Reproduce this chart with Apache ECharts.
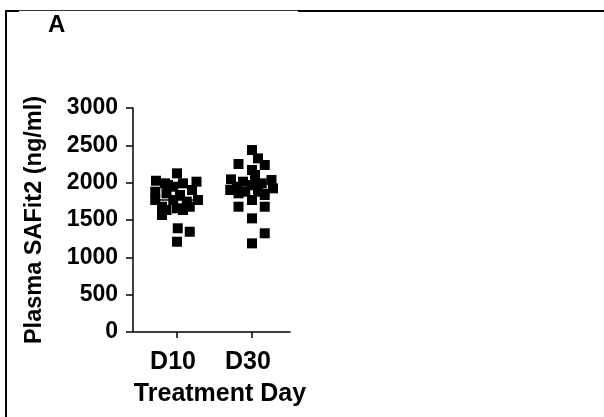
<!DOCTYPE html>
<html>
<head>
<meta charset="utf-8">
<script src="https://cdn.jsdelivr.net/npm/echarts@6/dist/echarts.min.js"></script>
<style>
	html, body { margin: 0; padding: 0; background: #fff; }
	#chart { width: 604px; height: 417px; }
</style>
</head>
<body>
<div id="chart"></div>
<script>
// treatment days (x categories)
var days = ['D10', 'D30'];

// plasma SAFit2, ng/ml
var d10Values = [2125, 2026, 2013, 1991, 1991, 1968, 1946, 1879, 1902, 1857, 1835, 1768, 1768, 1768, 1746, 1678, 1656, 1678, 1634, 1634, 1567, 1389, 1343, 1209];
// horizontal scatter of each point around its day (in day units)
var d10Jitter = [0, -0.28, 0.26, 0.08, -0.16, -0.12, -0.05, -0.29, 0.2, -0.14, 0.04, 0.28, -0.29, -0.05, 0.13, -0.2, 0, 0.17, -0.14, 0.08, -0.2, 0.01, 0.17, 0];

var d30Values = [2437, 2326, 2250, 2237, 2170, 2103, 2044, 2036, 2013, 1991, 1946, 1969, 1924, 1902, 1879, 1879, 1857, 1835, 1768, 1678, 1678, 1522, 1322, 1187];
var d30Jitter = [0, 0.08, -0.18, 0.17, 0, 0.04, -0.28, 0.26, -0.12, 0.13, -0.2, 0, 0.28, -0.29, -0.09, 0.08, -0.18, 0.17, 0, -0.18, 0.17, 0, 0.17, 0];

// group means shown as horizontal bars
var means = [1768, 1908];

// y axis ticks
var yTicks = [0, 500, 1000, 1500, 2000, 2500, 3000];

var font = '"Liberation Sans", Arial, sans-serif';

function points(values, jitter, pos) {
	return values.map(function(v, i) {
		return [pos + jitter[i], v];
	});
}

function meanLine(i) {
	var half = 0.34;
	return [[i + 1 - half, means[i]], [i + 1 + half, means[i]]];
}

var dom = document.getElementById('chart');
var myChart = echarts.init(dom, null, { renderer: 'canvas' });

var option = {
	animation: false,
	backgroundColor: '#fff',
	grid: {
		left: 133,
		top: 108,
		width: 157,
		height: 224
	},
	xAxis: {
		type: 'value',
		min: 0.413,
		max: 2.507,
		name: 'Treatment Day',
		nameLocation: 'middle',
		nameGap: 50,
		nameTextStyle: {
			color: '#000',
			fontFamily: font,
			fontWeight: 'bold',
			fontSize: 25,
			padding: [0, 0, 0, 17]
		},
		axisLine: { lineStyle: { color: '#000', width: 1.5 } },
		axisTick: {
			customValues: [1, 2],
			length: 6,
			lineStyle: { color: '#000', width: 1.5 }
		},
		axisLabel: {
			customValues: [1, 2],
			margin: 18,
			color: '#000',
			fontFamily: font,
			fontWeight: 'bold',
			fontSize: 25,
			padding: [0, 8, 0, 0],
			formatter: function(v) {
				return days[Math.round(v) - 1];
			}
		},
		splitLine: { show: false }
	},
	yAxis: {
		type: 'value',
		min: yTicks[0],
		max: yTicks[yTicks.length - 1],
		interval: yTicks[1] - yTicks[0],
		name: 'Plasma SAFit2 (ng/ml)',
		nameLocation: 'middle',
		nameRotate: 90,
		nameGap: 86,
		nameTextStyle: {
			color: '#000',
			fontFamily: font,
			fontWeight: 'bold',
			fontSize: 23.5
		},
		axisLine: { show: true, lineStyle: { color: '#000', width: 1.5 } },
		axisTick: { show: true, length: 7, lineStyle: { color: '#000', width: 1.5 } },
		axisLabel: {
			margin: 15,
			color: '#000',
			fontFamily: font,
			fontWeight: 'bold',
			fontSize: 23,
			padding: [8, 0, 0, 0],
			formatter: function(v) {
				return String(v);
			}
		},
		splitLine: { show: false }
	},
	graphic: [
		{ type: 'rect', shape: { x: 5, y: 10, width: 2, height: 407 }, style: { fill: '#000' } },
		{ type: 'rect', shape: { x: 5, y: 10, width: 14, height: 2 }, style: { fill: '#000' } },
		{ type: 'rect', shape: { x: 19, y: 10, width: 279, height: 1 }, style: { fill: '#333' } },
		{ type: 'rect', shape: { x: 298, y: 10, width: 306, height: 2 }, style: { fill: '#000' } },
		{
			type: 'text',
			left: 48,
			top: 13,
			style: {
				text: 'A',
				fill: '#000',
				font: 'bold 24px ' + font
			}
		}
	],
	series: [
		{
			name: days[0],
			type: 'scatter',
			symbol: 'rect',
			symbolSize: 10,
			itemStyle: { color: '#000', opacity: 1 },
			data: points(d10Values, d10Jitter, 1)
		},
		{
			name: days[1],
			type: 'scatter',
			symbol: 'rect',
			symbolSize: 10,
			itemStyle: { color: '#000', opacity: 1 },
			data: points(d30Values, d30Jitter, 2)
		},
		{
			type: 'line',
			symbol: 'none',
			lineStyle: { color: '#000', width: 1.5 },
			data: meanLine(0),
			z: 3
		},
		{
			type: 'line',
			symbol: 'none',
			lineStyle: { color: '#000', width: 1.5 },
			data: meanLine(1),
			z: 3
		}
	]
};

myChart.setOption(option, true);
</script>
</body>
</html>
